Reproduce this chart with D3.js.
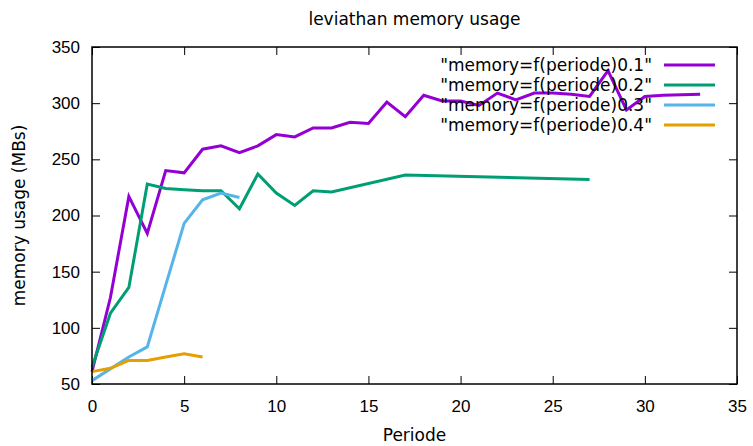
<!DOCTYPE html>
<html>
<head>
<meta charset="utf-8">
<script src="https://cdn.jsdelivr.net/npm/d3@7"></script>
<style>
  body { margin: 0; background: #fff; }
  svg { display: block; font-family: "DejaVu Sans", sans-serif; }
  .tick text { font-size: 17px; fill: #000; }
  .tick line { stroke: #000; }
</style>
</head>
<body>
<div id="chart"></div>
<script>
// series: x = periode, y = memory usage (MBs)
var xs01 = [0, 1, 2, 3, 4, 5, 6, 7, 8, 9, 10, 11, 12, 13, 14, 15, 16, 17, 18, 19, 20, 21, 22, 23, 24, 25, 26, 27, 28, 29, 30, 31, 32, 33];
var mem01 = [61, 127, 217, 184, 240, 238, 259, 262, 256, 262, 272, 270, 278, 278, 283, 282, 301, 288, 307, 302, 302, 298, 309, 303, 309, 309, 308, 306, 329, 294, 306, 307, 307.5, 308];

var xs02 = [0, 1, 2, 3, 4, 5, 6, 7, 8, 9, 10, 11, 12, 13, 17, 27];
var mem02 = [65, 113, 136, 228, 224, 223, 222, 222, 206, 237, 220, 209, 222, 221, 236, 232];

var xs03 = [0, 2, 3, 4, 5, 6, 7, 8];
var mem03 = [53, 74, 83, 138, 193, 214, 220, 216];

var xs04 = [0, 1, 2, 3, 4, 5, 6];
var mem04 = [61, 64, 71, 71, 74, 77, 74];

var seriesNames = ['"memory=f(periode)0.1"', '"memory=f(periode)0.2"', '"memory=f(periode)0.3"', '"memory=f(periode)0.4"'];
var seriesColors = ["#9400d3", "#009e73", "#56b4e9", "#e69f00"];

var xTicks = [0, 5, 10, 15, 20, 25, 30, 35];
var yTicks = [50, 100, 150, 200, 250, 300, 350];

var series = [
    { name: seriesNames[0], color: seriesColors[0], xs: xs01, ys: mem01 },
    { name: seriesNames[1], color: seriesColors[1], xs: xs02, ys: mem02 },
    { name: seriesNames[2], color: seriesColors[2], xs: xs03, ys: mem03 },
    { name: seriesNames[3], color: seriesColors[3], xs: xs04, ys: mem04 }
];

var W = 753, H = 446;
var margin = { top: 47, right: 16, bottom: 62, left: 92 },
    width = W - margin.left - margin.right,
    height = H - margin.top - margin.bottom;

var svg = d3.select("#chart").append("svg")
    .attr("width", W)
    .attr("height", H);

var x = d3.scaleLinear().domain([0, 35]).range([0, width]);
var y = d3.scaleLinear().domain([50, 350]).range([height, 0]);

var g = svg.append("g")
    .attr("transform", "translate(" + margin.left + "," + margin.top + ")");

// ticks, inward, mirrored
g.append("g")
    .attr("class", "axis axis--x")
    .attr("transform", "translate(0," + height + ")")
    .call(d3.axisBottom(x).tickValues(xTicks).tickSizeInner(-8).tickSizeOuter(0).tickPadding(16))
    .call(function(s) { s.select(".domain").remove(); });

g.append("g")
    .attr("class", "axis axis--x2")
    .call(d3.axisTop(x).tickValues(xTicks).tickSizeInner(-8).tickSizeOuter(0).tickFormat(""))
    .call(function(s) { s.select(".domain").remove(); });

g.append("g")
    .attr("class", "axis axis--y")
    .call(d3.axisLeft(y).tickValues(yTicks).tickSizeInner(-8).tickSizeOuter(0).tickPadding(12))
    .call(function(s) { s.select(".domain").remove(); });

g.append("g")
    .attr("class", "axis axis--y2")
    .attr("transform", "translate(" + width + ",0)")
    .call(d3.axisRight(y).tickValues(yTicks).tickSizeInner(-8).tickSizeOuter(0).tickFormat(""))
    .call(function(s) { s.select(".domain").remove(); });

var line = d3.line()
    .x(function(d) { return x(d[0]); })
    .y(function(d) { return y(d[1]); });

series.forEach(function(s) {
    g.append("path")
        .datum(d3.zip(s.xs, s.ys))
        .attr("fill", "none")
        .attr("stroke", s.color)
        .attr("stroke-width", 3)
        .attr("stroke-linejoin", "miter")
        .attr("d", line);
});

// legend (drawn over the lines like gnuplot does)
var legend = g.append("g").attr("class", "legend");
series.forEach(function(s, i) {
    var ly = 18 + i * 20;
    legend.append("text")
        .attr("x", 560)
        .attr("y", ly)
        .attr("dy", "0.35em")
        .attr("text-anchor", "end")
        .style("font-size", "17px")
        .text(s.name);
    legend.append("line")
        .attr("x1", 572)
        .attr("x2", 623)
        .attr("y1", ly)
        .attr("y2", ly)
        .attr("stroke", s.color)
        .attr("stroke-width", 3);
});

// frame
g.append("rect")
    .attr("width", width)
    .attr("height", height)
    .attr("fill", "none")
    .attr("stroke", "#000")
    .attr("stroke-width", 1.5);

// title and labels
svg.append("text")
    .attr("x", margin.left + width / 2)
    .attr("y", 25)
    .attr("text-anchor", "middle")
    .style("font-size", "17px")
    .text("leviathan memory usage");

svg.append("text")
    .attr("x", margin.left + width / 2)
    .attr("y", 441)
    .attr("text-anchor", "middle")
    .style("font-size", "17px")
    .text("Periode");

svg.append("text")
    .attr("transform", "translate(25," + (margin.top + height / 2) + ") rotate(-90)")
    .attr("text-anchor", "middle")
    .style("font-size", "17px")
    .text("memory usage (MBs)");
</script>
</body>
</html>
